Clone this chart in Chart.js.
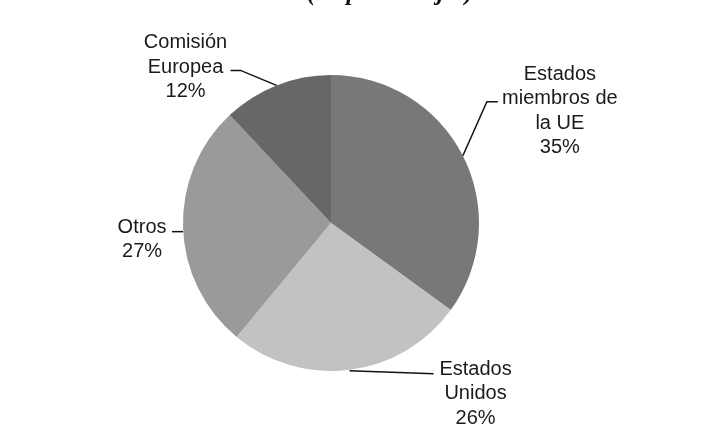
<!DOCTYPE html>
<html>
<head>
<meta charset="utf-8">
<script src="https://cdn.jsdelivr.net/npm/chart.js@4/dist/chart.umd.min.js"></script>
<style>
  html, body { margin: 0; padding: 0; background: #fff; }
</style>
</head>
<body>
<canvas id="pieChart" width="715" height="437"></canvas>
<script>
const categories = ["Estados miembros de la UE", "Estados Unidos", "Otros", "Comisión Europea"];
const labelLines = [["Estados", "miembros de", "la UE"], ["Estados", "Unidos"], ["Otros"], ["Comisión", "Europea"]];
const values = [35, 26, 27, 12];
const sliceColors = ["#787878", "#c2c2c2", "#9a9a9a", "#676767"];
const titleText = "(en porcentajes)";

// leader line points and text anchor, relative to the slice's outer edge at mid angle
const labelLayout = [
    { pts: [[0, 0], [24, -54], [35, -54]], tx: 97, ty: -76 },
    { pts: [[0, 1], [84, 4]], tx: 126, ty: 5 },
    { pts: [[0, 4], [-11, 4]], tx: -41, ty: 5 },
    { pts: [[0, 0], [-36, -15], [-46, -15]], tx: -91, ty: -37 },
];

const outerLabels = {
    id: "outerLabels",
    afterDraw(chart) {
        const ctx = chart.ctx;
        const meta = chart.getDatasetMeta(0);
        ctx.save();

        // title, mostly cut off by the top edge
        ctx.font = "italic bold 25px 'Liberation Serif'";
        ctx.fillStyle = "#111";
        ctx.textAlign = "center";
        ctx.textBaseline = "alphabetic";
        ctx.fillText(titleText, 390, 0);

        meta.data.forEach((arc, i) => {
            const p = arc.getProps(["x", "y", "startAngle", "endAngle", "outerRadius"], true);
            const mid = (p.startAngle + p.endAngle) / 2;
            const ex = p.x + Math.cos(mid) * p.outerRadius;
            const ey = p.y + Math.sin(mid) * p.outerRadius;
            const lay = labelLayout[i];

            ctx.strokeStyle = "#111";
            ctx.lineWidth = 1.5;
            ctx.beginPath();
            lay.pts.forEach(([dx, dy], k) => {
                if (k === 0) ctx.moveTo(ex + dx, ey + dy);
                else ctx.lineTo(ex + dx, ey + dy);
            });
            ctx.stroke();

            const lines = labelLines[i].concat([values[i] + "%"]);
            ctx.font = "20px 'Liberation Sans'";
            ctx.fillStyle = "#1a1a1a";
            ctx.textAlign = "center";
            lines.forEach((t, k) => {
                ctx.fillText(t, ex + lay.tx, ey + lay.ty + k * 24.5);
            });
        });
        ctx.restore();
    },
};

new Chart(document.getElementById("pieChart"), {
    type: "pie",
    data: {
        labels: categories,
        datasets: [{
            data: values,
            backgroundColor: sliceColors,
            borderWidth: 0,
        }],
    },
    options: {
        responsive: false,
        animation: false,
        layout: { padding: { left: 183, right: 236, top: 75, bottom: 66 } },
        plugins: {
            legend: { display: false },
            tooltip: { enabled: false },
        },
    },
    plugins: [outerLabels],
});
</script>
</body>
</html>
